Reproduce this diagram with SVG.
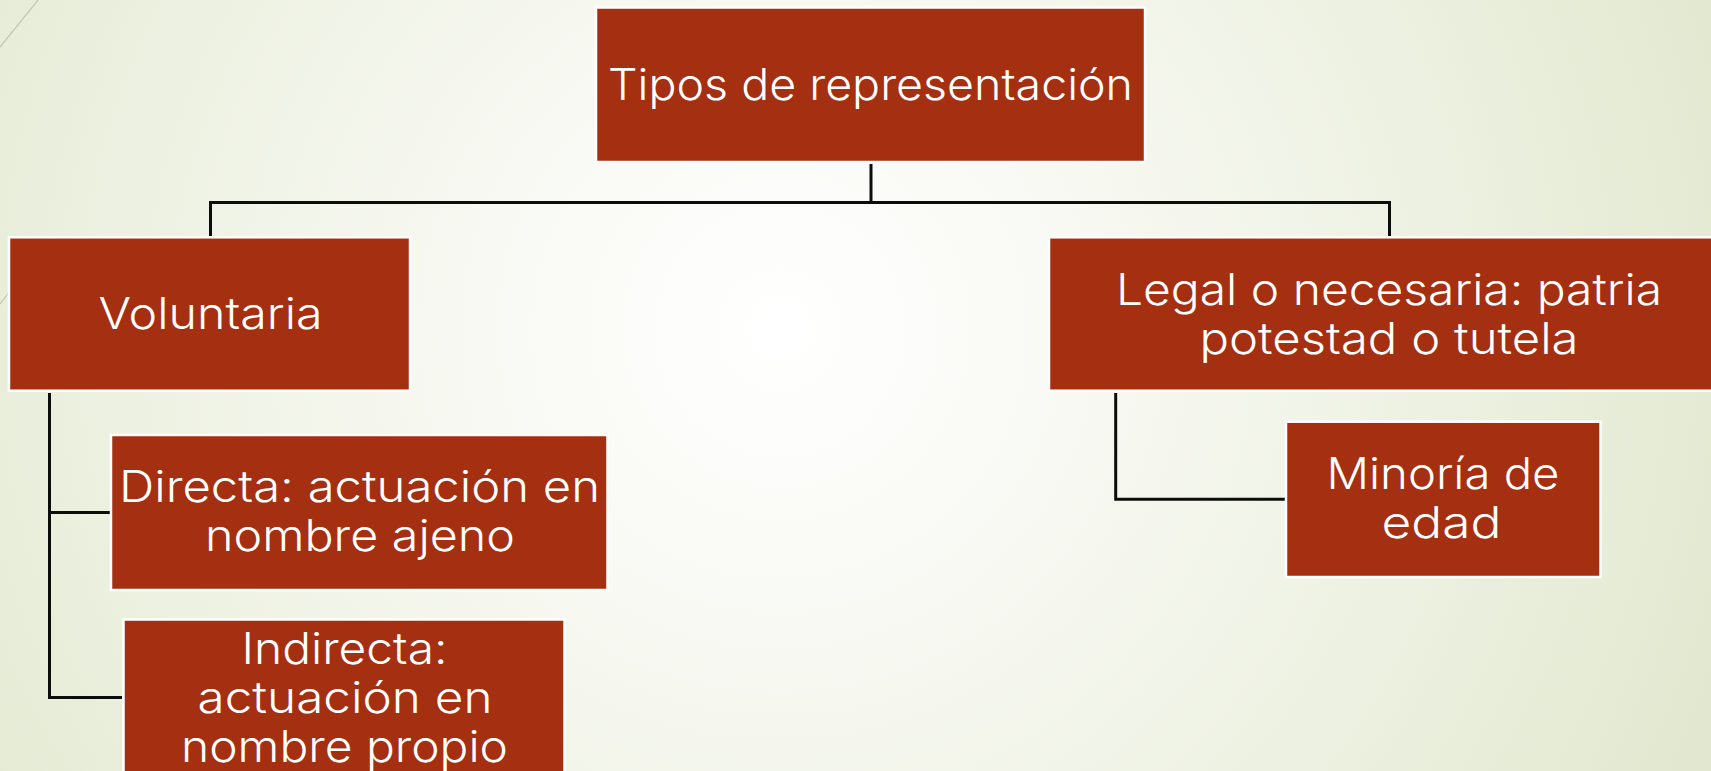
<svg xmlns="http://www.w3.org/2000/svg" width="1711" height="771" viewBox="0 0 1711 771">
  <defs>
    <radialGradient id="bg" gradientUnits="userSpaceOnUse" cx="780" cy="330" r="1000">
      <stop offset="0" stop-color="#ffffff"/>
      <stop offset="0.3" stop-color="#f8f9f3"/>
      <stop offset="0.75" stop-color="#eaefdd"/>
      <stop offset="1" stop-color="#e2e8cf"/>
    </radialGradient>
    <style>
      .box { fill: #a52f11; stroke: #ffffff; stroke-width: 2.5; }
      .lbl { font-family: Inter, "Liberation Sans", Arial, sans-serif; font-weight: 300; font-size: 44px; fill: #ffffff; text-anchor: middle; }
      .conn { fill: none; stroke: #0c0c0a; stroke-width: 3; }
      .deco { stroke: #c3c6b4; stroke-width: 1.2; fill: none; }
    </style>
  </defs>

  <rect x="0" y="0" width="1711" height="771" fill="url(#bg)"/>
  <line class="deco" x1="38" y1="0" x2="0" y2="47"/>
  <line class="deco" x1="0" y1="304" x2="13" y2="287" stroke="#9a9a84"/>

  <g id="connectors">
    <path class="conn" d="M871,164 V202.5"/>
    <path class="conn" d="M210.5,236 V202.5 H1389.5 V236"/>
    <path class="conn" d="M49.5,393 V697.5 H122"/>
    <path class="conn" d="M49.5,512.5 H110"/>
    <path class="conn" d="M1115.7,393 V499.2 H1285"/>
  </g>

  <g id="node-tipos">
    <rect class="box" x="596" y="7.5" width="549" height="154.5"/>
    <text class="lbl" x="870.5" y="99.5" textLength="525" lengthAdjust="spacingAndGlyphs">Tipos de representación</text>
  </g>

  <g id="node-voluntaria">
    <rect class="box" x="9" y="237.3" width="401" height="153.4"/>
    <text class="lbl" x="210.5" y="328.5" textLength="224" lengthAdjust="spacingAndGlyphs">Voluntaria</text>
  </g>

  <g id="node-legal">
    <rect class="box" x="1049" y="237.3" width="700" height="153.4"/>
    <text class="lbl" x="1389" y="305" textLength="546" lengthAdjust="spacingAndGlyphs">Legal o necesaria: patria</text>
    <text class="lbl" x="1389" y="354" textLength="379" lengthAdjust="spacingAndGlyphs">potestad o tutela</text>
  </g>

  <g id="node-directa">
    <rect class="box" x="111" y="435" width="496.5" height="155"/>
    <text class="lbl" x="359.5" y="502" textLength="481" lengthAdjust="spacingAndGlyphs">Directa: actuación en</text>
    <text class="lbl" x="360" y="551" textLength="310" lengthAdjust="spacingAndGlyphs">nombre ajeno</text>
  </g>

  <g id="node-indirecta">
    <rect class="box" x="123.5" y="619.5" width="441" height="200"/>
    <text class="lbl" x="344.5" y="663.5" textLength="206" lengthAdjust="spacingAndGlyphs">Indirecta:</text>
    <text class="lbl" x="345" y="712.5" textLength="295" lengthAdjust="spacingAndGlyphs">actuación en</text>
    <text class="lbl" x="344.5" y="761.5" textLength="327" lengthAdjust="spacingAndGlyphs">nombre propio</text>
  </g>

  <g id="node-minoria">
    <rect class="box" x="1286" y="421.7" width="314.5" height="155.3"/>
    <text class="lbl" x="1443" y="488.5" textLength="233" lengthAdjust="spacingAndGlyphs">Minoría de</text>
    <text class="lbl" x="1441.5" y="537.5" textLength="120" lengthAdjust="spacingAndGlyphs">edad</text>
  </g>
</svg>
